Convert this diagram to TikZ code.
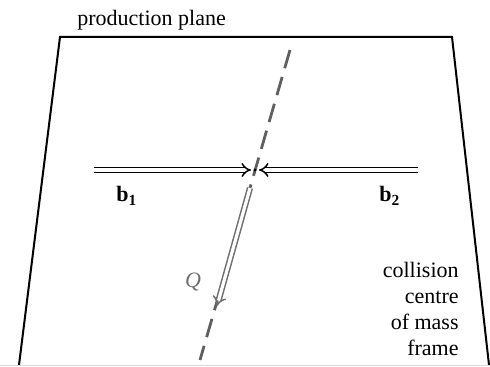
\documentclass[tikz,border=0pt]{standalone}
\usepackage{fontspec}
\setmainfont{Liberation Serif}
\usepackage{tikz}
\usetikzlibrary{arrows.meta}
\definecolor{cAxis}{RGB}{95,95,95}
\definecolor{cQ}{RGB}{110,110,110}

\begin{document}
\begin{tikzpicture}[x=0.5pt, y=-0.5pt,
    beam/.style={double=white, double distance=1.6pt, line width=0.75pt, -{Implies[scale=1.3]}},
    lbl/.style={font=\fontsize{11}{13}\selectfont, inner sep=0pt}]
    \useasboundingbox (0,0) rectangle (490,367);

    % Production plane
    \coordinate (tl) at (60,37);
    \coordinate (tr) at (452,37);
    \coordinate (bl) at (19,365);
    \coordinate (br) at (489,365);
    \draw[line width=1pt] (bl) -- (tl) -- (tr) -- (br);
    \draw[gray!30, line width=0.5pt] (0,365) -- (490,365);
    \node[lbl, anchor=base west] (plane) at (77,26) {production plane};

    % Axis
    \coordinate (atop) at (290,50);
    \coordinate (abot) at (200,360);
    \draw[cAxis, line width=1.4pt, dash pattern=on 9.5pt off 4.5pt] (atop) -- (abot);

    % Beams
    \coordinate (c) at (255,170);
    \coordinate (b1s) at (94,170);
    \coordinate (b1e) at (251,170);
    \coordinate (b2s) at (418,170);
    \coordinate (b2e) at (259,170);
    \draw[beam] (b1s) -- (b1e);
    \draw[beam] (b2s) -- (b2e);
    \fill (c) circle (0.8pt);
    \node[lbl, anchor=base west] (b1) at (116,202) {\textbf{b\textsubscript{1}}};
    \node[lbl, anchor=base west] (b2) at (379,202) {\textbf{b\textsubscript{2}}};

    % Q
    \coordinate (qs) at (250,188);
    \coordinate (qe) at (217,306);
    \draw[beam, cQ] (qs) -- (qe);
    \node[lbl, text=cQ] (q) at (193,282) {\textit{Q}};

    % Frame
    \node[lbl, anchor=north east, align=right] (frame) at (459,262)
        {collision\\centre\\of mass\\frame};
\end{tikzpicture}
\end{document}
